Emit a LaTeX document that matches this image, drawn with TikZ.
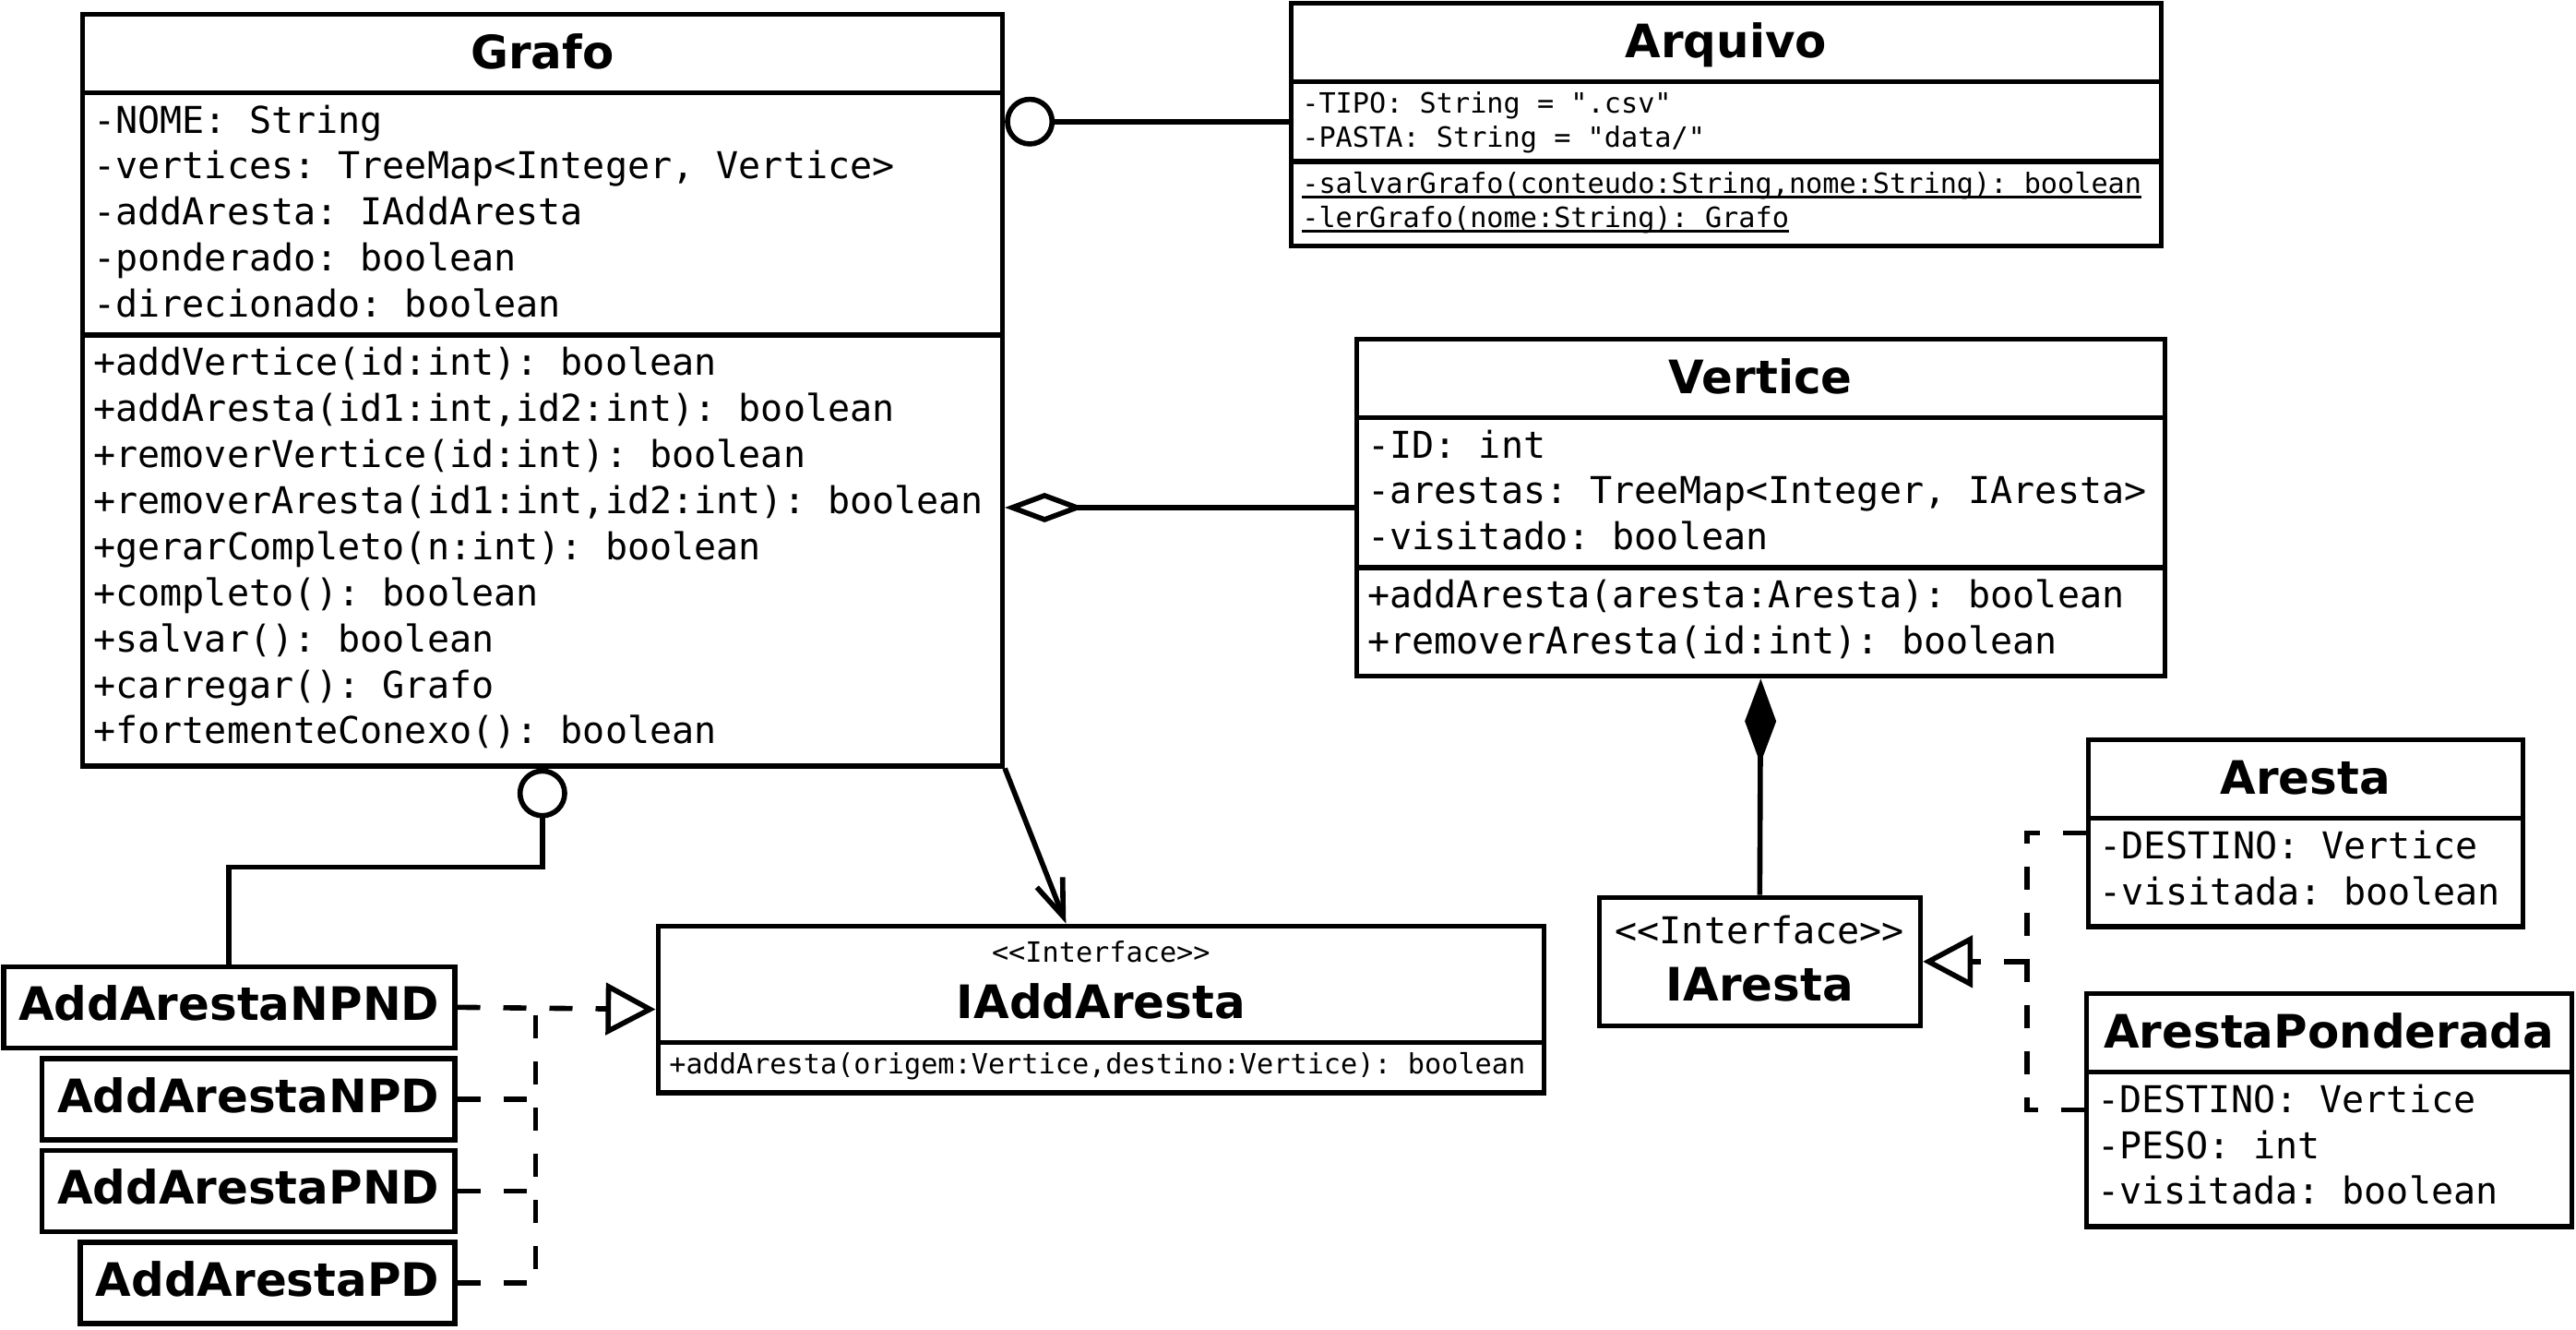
\documentclass[tikz,border=0pt]{standalone}
\usepackage{fontspec}
\setmainfont{DejaVu Sans}
\setmonofont{DejaVu Sans Mono}
\usetikzlibrary{shapes.multipart,arrows.meta,positioning,calc}
\newcommand{\corpo}{\fontsize{11.4pt}{14.2pt}\selectfont\ttfamily}
\newcommand{\miudo}{\fontsize{8.6pt}{10.5pt}\selectfont\ttfamily}
\newcommand{\titulo}{\fontsize{14.2pt}{20.5pt}\selectfont\rmfamily\bfseries}
\newcommand{\tstrut}{\rule[-.17cm]{0pt}{.674cm}}
\newcommand{\fundo}{\rule[-.104cm]{0pt}{.104cm}}
\newcommand{\sublinha}[1]{\setbox0=\hbox{#1}\rlap{\rule[-.05cm]{\wd0}{.025cm}}\box0}
\tikzstyle{classe}=[draw,rectangle split,rectangle split parts=3,
  rectangle split part align={center,left,left},align=left,
  inner xsep=.12cm,inner ysep=.06cm,font=\corpo,anchor=north west]
\tikzstyle{classe2}=[classe,rectangle split parts=2]
\tikzstyle{impl}=[draw,font=\titulo,inner xsep=.165cm,inner ysep=.04cm,minimum height=.88cm]
\tikzstyle{bola}=[-{Circle[open,length=.54cm]}]
\tikzstyle{agrega}=[-{Diamond[open,length=.86cm,width=.32cm]}]
\tikzstyle{compoe}=[{Diamond[length=.92cm,width=.34cm]}-]
\tikzstyle{navega}=[-{Straight Barb[length=.4cm,width=.3cm]}]
\tikzstyle{tracejado}=[dash pattern=on .25cm off .25cm]
\tikzstyle{realiza}=[tracejado,-{Triangle[open,length=.54cm,width=.56cm]}]

\begin{document}
\begin{tikzpicture}[line width=1.6pt, node distance=.06cm]
  \useasboundingbox (0,0) rectangle (27.92,-14.4);

  \node[classe, minimum width=9.97cm] (grafo) at (.865,-.125)
    {{\titulo\tstrut Grafo}
     \nodepart{two}\strut-NOME: String\\
     -vertices: TreeMap<Integer, Vertice>\\
     -addAresta: IAddAresta\\
     -ponderado: boolean\\
     -direcionado: boolean\fundo
     \nodepart{three}\strut+addVertice(id:int): boolean\\
     +addAresta(id1:int,id2:int): boolean\\
     +removerVertice(id:int): boolean\\
     +removerAresta(id1:int,id2:int): boolean\\
     +gerarCompleto(n:int): boolean\\
     +completo(): boolean\\
     +salvar(): boolean\\
     +carregar(): Grafo\\
     +fortementeConexo(): boolean\strut};

  \node[classe, minimum width=9.43cm, font=\miudo] (arquivo) at (13.965,-.005)
    {{\titulo\tstrut Arquivo}
     \nodepart{two}\strut-TIPO: String = ".csv"\\
     -PASTA: String = "data/"
     \nodepart{three}\strut\sublinha{-salvarGrafo(conteudo:String,nome:String): boolean}\\
     \sublinha{-lerGrafo(nome:String): Grafo}\strut};

  \node[classe, minimum width=8.76cm] (vertice) at (14.675,-3.645)
    {{\titulo\tstrut Vertice}
     \nodepart{two}\strut-ID: int\\
     -arestas: TreeMap<Integer, IAresta>\\
     -visitado: boolean\fundo
     \nodepart{three}\strut+addAresta(aresta:Aresta): boolean\\
     +removerAresta(id:int): boolean\strut};

  \node[classe2, minimum width=9.6cm, font=\miudo] (iaddaresta) at (7.105,-10.005)
    {\shortstack{{\miudo\rule{0pt}{.3cm}<<Interface>>}\\{\titulo\tstrut IAddAresta}}
     \nodepart{two}\strut+addAresta(origem:Vertice,destino:Vertice): boolean\strut};

  \node[draw, align=center, font=\corpo, minimum width=3.48cm, minimum height=1.39cm,
    anchor=north west] (iaresta) at (17.305,-9.695)
    {<<Interface>>\\{\titulo\rule[-.08cm]{0pt}{.66cm}IAresta}};

  \node[classe2, minimum width=4.71cm] (aresta) at (22.605,-7.985)
    {{\titulo\tstrut Aresta}
     \nodepart{two}\strut-DESTINO: Vertice\\
     -visitada: boolean\strut};

  \node[classe2, minimum width=5.26cm] (arestap) at (22.585,-10.735)
    {{\titulo\tstrut ArestaPonderada}
     \nodepart{two}\strut-DESTINO: Vertice\\
     -PESO: int\\
     -visitada: boolean\strut};

  \node[impl, anchor=north east] (npnd) at (4.955,-10.445) {\strut AddArestaNPND};
  \node[impl, below=of npnd.south east, anchor=north east] (npd) {\strut AddArestaNPD};
  \node[impl, below=of npd.south east, anchor=north east] (pnd) {\strut AddArestaPND};
  \node[impl, below=of pnd.south east, anchor=north east] (pd) {\strut AddArestaPD};

  \coordinate (meio) at ($(arquivo.text split west)!.5!(arquivo.two split west)$);
  \draw[bola] (meio) -- (meio -| grafo.east);
  \draw[agrega] (vertice.west) -- (vertice.west -| grafo.east);
  \draw[compoe] (vertice.south) -- (iaresta.north);
  \draw[navega] (grafo.south east) -- ([xshift=-.38cm]iaddaresta.north);

  \coordinate (dobra) at ([yshift=-1.07cm]grafo.south);
  \draw[bola] (npnd.north) |- (dobra) -- (grafo.south);

  \coordinate (j1) at ([xshift=.85cm]npnd.east);
  \draw[realiza] (npnd.east) -- (iaddaresta.west);
  \draw[tracejado] (pd.east) -| (j1);
  \draw[tracejado] (npd.east) -- (npd.east -| j1);
  \draw[tracejado] (pnd.east) -- (pnd.east -| j1);

  \coordinate (j2) at ([xshift=1.13cm]iaresta.east);
  \draw[realiza] (j2) -- (iaresta.east);
  \draw[tracejado] (aresta.west) -| (j2);
  \draw[tracejado] (arestap.west) -| (j2);
\end{tikzpicture}
\end{document}
